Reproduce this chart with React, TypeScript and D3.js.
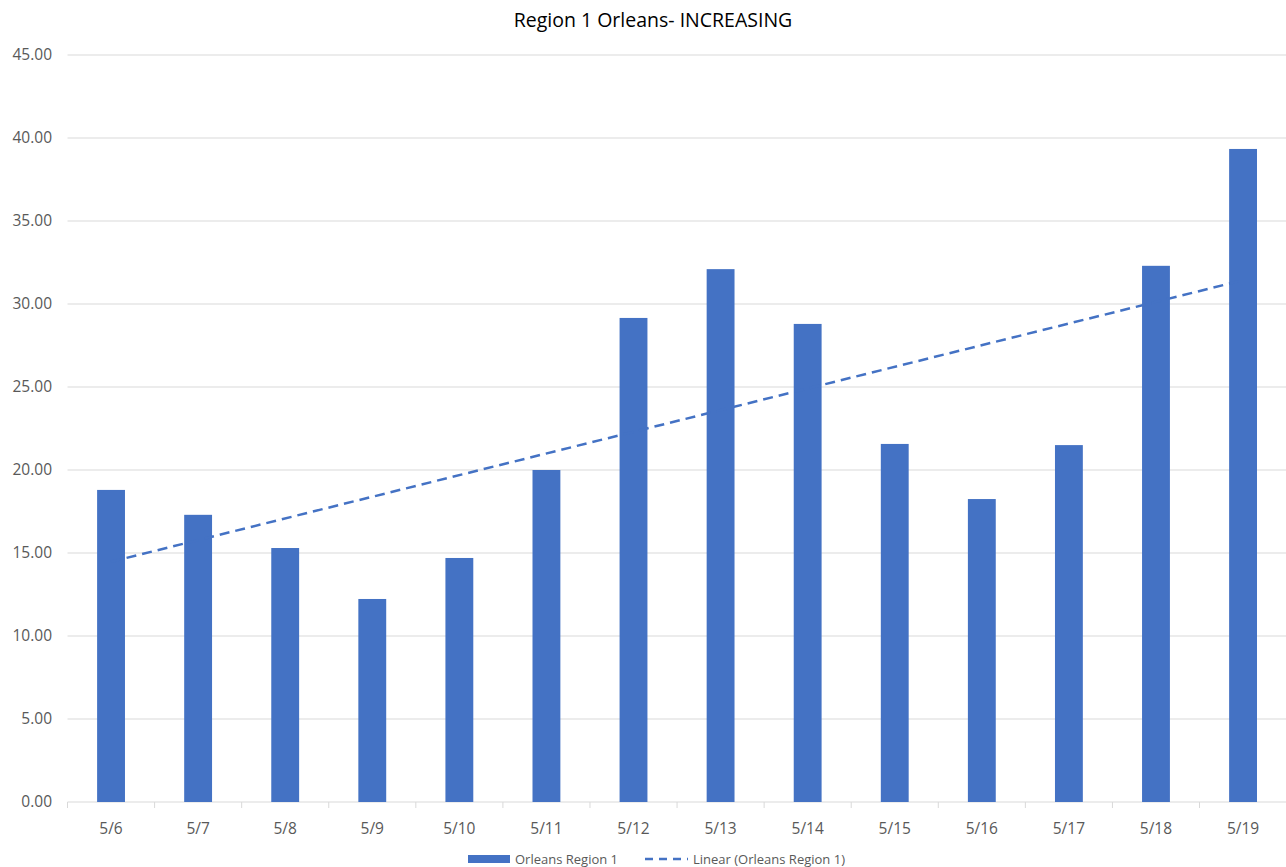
import React from "react";
import * as d3 from "d3";

const categories = ["5/6", "5/7", "5/8", "5/9", "5/10", "5/11", "5/12", "5/13", "5/14", "5/15", "5/16", "5/17", "5/18", "5/19"];
const values = [18.8, 17.3, 15.3, 12.23, 14.7, 20.0, 29.16, 32.1, 28.8, 21.57, 18.25, 21.5, 32.3, 39.34];
const yTicks = [0, 5, 10, 15, 20, 25, 30, 35, 40, 45];
const title = "Region 1 Orleans- INCREASING";
const seriesName = "Orleans Region 1";
const trendName = "Linear (Orleans Region 1)";

const W = 1286;
const H = 867;
const left = 67.5;
const right = 1286.6;
const top = 55;
const bottom = 802;
const FONT = "'Open Sans', 'Noto Sans', sans-serif";
const BLUE = "#4472C4";
const TEXT = "#595959";

export default function App() {
  const x = d3.scaleBand<string>().domain(categories).range([left, right]).paddingInner(0.68).paddingOuter(0.34);
  const y = d3.scaleLinear().domain([0, 45]).range([bottom, top]);
  const step = x.step();

  // linear regression trendline
  const n = values.length;
  const xs = values.map((_, i) => i + 1);
  const mx = d3.mean(xs)!;
  const my = d3.mean(values)!;
  const sxy = d3.sum(xs.map((xi, i) => (xi - mx) * (values[i] - my)));
  const sxx = d3.sum(xs.map((xi) => (xi - mx) ** 2));
  const slope = sxy / sxx;
  const intercept = my - slope * mx;
  const trendPts: [number, number][] = [
    [x(categories[0])! + x.bandwidth() / 2, y(intercept + slope * 1)],
    [x(categories[n - 1])! + x.bandwidth() / 2, y(intercept + slope * n)],
  ];
  const line = d3.line();

  return (
    <svg width={W} height={H} style={{ display: "block", position: "absolute", left: 0, top: 0, background: "#fff" }} fontFamily={FONT}>
      <rect width={W} height={H} fill="#fff" />
      <text x={653} y={27} textAnchor="middle" fontSize={19.5} fill="#000">{title}</text>
      {yTicks.map((t) => (
        <g key={t}>
          {t > 0 && <line x1={left} x2={right} y1={y(t)} y2={y(t)} stroke="#d9d9d9" strokeWidth={1} />}
          <text x={52} y={y(t)} dy="0.35em" textAnchor="end" fontSize={15.5} fill={TEXT}>{t.toFixed(2)}</text>
        </g>
      ))}
      <line x1={left} x2={right} y1={bottom} y2={bottom} stroke="#d9d9d9" strokeWidth={1} />
      {d3.range(n + 1).map((i) => (
        <line key={i} x1={left + i * step} x2={left + i * step} y1={bottom} y2={bottom + 6} stroke="#d9d9d9" strokeWidth={1} />
      ))}
      {categories.map((c, i) => (
        <g key={c}>
          <rect x={x(c)} y={y(values[i])} width={x.bandwidth()} height={bottom - y(values[i])} fill={BLUE} />
          <text x={x(c)! + x.bandwidth() / 2} y={829} dy="0.35em" textAnchor="middle" fontSize={15.5} fill={TEXT}>{c}</text>
        </g>
      ))}
      <path d={line(trendPts)!} stroke={BLUE} strokeWidth={2.5} strokeDasharray="10,6" fill="none" />
      <g>
        <rect x={468} y={855} width={42} height={8} fill={BLUE} />
        <text x={515} y={859} dy="0.35em" fontSize={13} fill={TEXT}>{seriesName}</text>
        <line x1={645} x2={688} y1={859} y2={859} stroke={BLUE} strokeWidth={2.5} strokeDasharray="8,6" />
        <text x={693} y={859} dy="0.35em" fontSize={13} fill={TEXT}>{trendName}</text>
      </g>
    </svg>
  );
}
